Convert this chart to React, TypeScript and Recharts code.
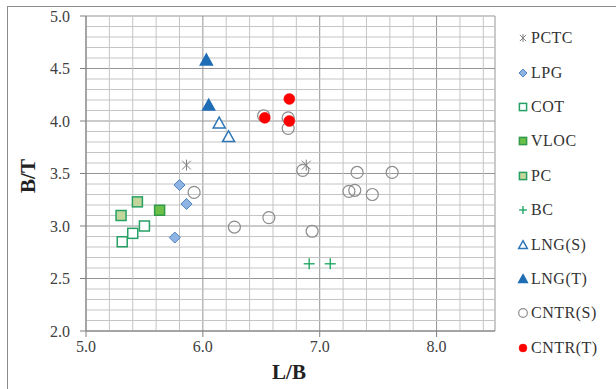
import React from "react";
import {
  ScatterChart,
  Scatter,
  XAxis,
  YAxis,
  CartesianGrid,
  ReferenceLine,
} from "recharts";

// 各船型 (L/B, B/T)
const pctc = [
  { x: 5.86, y: 3.58 },
  { x: 6.885, y: 3.58 },
];
const lpg = [
  { x: 5.8, y: 3.39 },
  { x: 5.86, y: 3.21 },
  { x: 5.76, y: 2.89 },
];
const cot = [
  { x: 5.31, y: 2.85 },
  { x: 5.4, y: 2.93 },
  { x: 5.5, y: 3.0 },
];
const vloc = [{ x: 5.63, y: 3.15 }];
const pc = [
  { x: 5.3, y: 3.1 },
  { x: 5.44, y: 3.23 },
];
const bc = [
  { x: 6.91, y: 2.64 },
  { x: 7.09, y: 2.64 },
];
const lngS = [
  { x: 6.14, y: 3.98 },
  { x: 6.22, y: 3.85 },
];
const lngT = [
  { x: 6.03, y: 4.58 },
  { x: 6.05, y: 4.15 },
];
const cntrS = [
  { x: 5.925, y: 3.32 },
  { x: 6.27, y: 2.99 },
  { x: 6.565, y: 3.08 },
  { x: 6.935, y: 2.95 },
  { x: 6.855, y: 3.53 },
  { x: 7.32, y: 3.51 },
  { x: 7.62, y: 3.51 },
  { x: 7.25, y: 3.33 },
  { x: 7.3, y: 3.34 },
  { x: 7.45, y: 3.3 },
  { x: 6.52, y: 4.05 },
  { x: 6.73, y: 4.03 },
  { x: 6.73, y: 3.93 },
];
const cntrT = [
  { x: 6.53, y: 4.03 },
  { x: 6.74, y: 4.21 },
  { x: 6.74, y: 4.0 },
];

const xTicks = [5, 6, 7, 8];
const yTicks = [2, 2.5, 3, 3.5, 4, 4.5, 5];

// 细网格线
const minorX: number[] = [];
for (let i = 1; i < 18; i++) {
  const v = Math.round((5 + i * 0.2) * 10) / 10;
  if (v % 1 !== 0) minorX.push(v);
}
const minorY: number[] = [];
for (let i = 1; i < 30; i++) {
  const v = Math.round((2 + i * 0.1) * 10) / 10;
  if (Math.round(v * 10) % 5 !== 0) minorY.push(v);
}

type Kind =
  | "star"
  | "diamond"
  | "sqOpen"
  | "sqVloc"
  | "sqPc"
  | "plus"
  | "triOpen"
  | "triFill"
  | "circOpen"
  | "circRed";

function Marker({ kind, cx, cy, s = 1 }: { kind: Kind; cx: number; cy: number; s?: number }) {
  switch (kind) {
    case "star": {
      const r = 5.5 * s;
      const d = r * 0.8;
      return (
        <g stroke="#7f7f7f" strokeWidth={1}>
          <line x1={cx - d} y1={cy - d} x2={cx + d} y2={cy + d} />
          <line x1={cx - d} y1={cy + d} x2={cx + d} y2={cy - d} />
          <line x1={cx} y1={cy - r} x2={cx} y2={cy + r} />
        </g>
      );
    }
    case "diamond": {
      const r = 5.5 * s;
      return (
        <polygon
          points={`${cx},${cy - r} ${cx + r},${cy} ${cx},${cy + r} ${cx - r},${cy}`}
          fill="#8db4e2"
          stroke="#4f81bd"
          strokeWidth={1}
        />
      );
    }
    case "sqOpen":
    case "sqVloc":
    case "sqPc": {
      const h = 5 * s;
      const fill = kind === "sqOpen" ? "#ffffff" : kind === "sqVloc" ? "#6cc04a" : "#c3d69b";
      const stroke = kind === "sqVloc" ? "#2f9a48" : "#26a065";
      return (
        <rect x={cx - h} y={cy - h} width={h * 2} height={h * 2} fill={fill} stroke={stroke} strokeWidth={1.5} />
      );
    }
    case "plus": {
      const r = 5.5 * s;
      return (
        <g stroke="#14a35a" strokeWidth={1.3}>
          <line x1={cx - r} y1={cy} x2={cx + r} y2={cy} />
          <line x1={cx} y1={cy - r} x2={cx} y2={cy + r} />
        </g>
      );
    }
    case "triOpen":
    case "triFill": {
      const r = 6 * s;
      return (
        <polygon
          points={`${cx},${cy - r} ${cx + r},${cy + r * 0.8} ${cx - r},${cy + r * 0.8}`}
          fill={kind === "triFill" ? "#1f6db5" : "#ffffff"}
          stroke={kind === "triFill" ? "#1f6db5" : "#2e75b6"}
          strokeWidth={1.5}
        />
      );
    }
    case "circOpen":
      return <circle cx={cx} cy={cy} r={6 * s} fill="none" stroke="#8c8c8c" strokeWidth={1.2} />;
    case "circRed":
      return <circle cx={cx} cy={cy} r={5.5 * s} fill="#ff0000" stroke="#ff0000" strokeWidth={0.5} />;
  }
  return null;
}

const series: { name: string; data: { x: number; y: number }[]; kind: Kind }[] = [
  { name: "PCTC", data: pctc, kind: "star" },
  { name: "LPG", data: lpg, kind: "diamond" },
  { name: "COT", data: cot, kind: "sqOpen" },
  { name: "VLOC", data: vloc, kind: "sqVloc" },
  { name: "PC", data: pc, kind: "sqPc" },
  { name: "BC", data: bc, kind: "plus" },
  { name: "LNG(S)", data: lngS, kind: "triOpen" },
  { name: "LNG(T)", data: lngT, kind: "triFill" },
  { name: "CNTR(S)", data: cntrS, kind: "circOpen" },
  { name: "CNTR(T)", data: cntrT, kind: "circRed" },
];

const font = "Liberation Serif";

export default function App() {
  return (
    <div style={{ position: "relative", width: 616, height: 389, background: "#fff", fontFamily: font }}>
      <style>{`body{margin:0}`}</style>
      <div
        style={{
          position: "absolute",
          left: 7,
          top: 6,
          right: 0,
          bottom: 0,
          borderLeft: "1px solid #8c8c8c",
          borderTop: "1px solid #8c8c8c",
        }}
      />
      <div style={{ position: "absolute", left: 0, top: 0 }}>
        <ScatterChart
          width={616}
          height={389}
          margin={{ top: 16, right: 121, bottom: 28, left: 36 }}
          style={{ fontFamily: font }}
        >
          {minorX.map((v) => (
            <ReferenceLine key={"mx" + v} x={v} stroke="#c4c4c4" strokeWidth={1} ifOverflow="hidden" />
          ))}
          {minorY.map((v) => (
            <ReferenceLine key={"my" + v} y={v} stroke="#c4c4c4" strokeWidth={1} ifOverflow="hidden" />
          ))}
          <CartesianGrid stroke="#959595" />
          <XAxis
            type="number"
            dataKey="x"
            domain={[5, 8.5]}
            ticks={xTicks}
            tickFormatter={(v: number) => v.toFixed(1)}
            axisLine={{ stroke: "#808080" }}
            tickLine={{ stroke: "#808080" }}
            tickSize={6}
            tickMargin={4}
            tick={{ fontSize: 16, fill: "#404040", fontFamily: font }}
            height={30}
            allowDataOverflow
          />
          <YAxis
            type="number"
            dataKey="y"
            domain={[2, 5]}
            ticks={yTicks}
            tickFormatter={(v: number) => v.toFixed(1)}
            axisLine={{ stroke: "#808080" }}
            tickLine={{ stroke: "#808080" }}
            tickSize={6}
            tickMargin={10}
            tick={{ fontSize: 16, fill: "#404040", fontFamily: font }}
            width={50}
            allowDataOverflow
          />
          {series.map((s) => (
            <Scatter
              key={s.name}
              name={s.name}
              data={s.data}
              isAnimationActive={false}
              shape={(p: any) => <Marker kind={s.kind} cx={p.cx} cy={p.cy} />}
            />
          ))}
        </ScatterChart>
      </div>
      {/* 轴标题 */}
      <div
        style={{
          position: "absolute",
          left: 289,
          top: 372,
          transform: "translate(-50%, -50%)",
          fontSize: 21,
          fontWeight: "bold",
          color: "#222",
        }}
      >
        L/B
      </div>
      <div
        style={{
          position: "absolute",
          left: 28,
          top: 176,
          transform: "translate(-50%, -50%) rotate(-90deg)",
          fontSize: 21,
          fontWeight: "bold",
          color: "#222",
        }}
      >
        B/T
      </div>
      {/* 图例 */}
      <div style={{ position: "absolute", left: 516, top: 21 }}>
        {series.map((s) => (
          <div key={s.name} style={{ display: "flex", alignItems: "center", height: 34.4 }}>
            <svg width={14} height={14} style={{ marginRight: 1 }}>
              <Marker kind={s.kind} cx={7} cy={7} s={0.72} />
            </svg>
            <span style={{ fontSize: 16, color: "#333", letterSpacing: 0.5, lineHeight: "16px" }}>{s.name}</span>
          </div>
        ))}
      </div>
    </div>
  );
}
